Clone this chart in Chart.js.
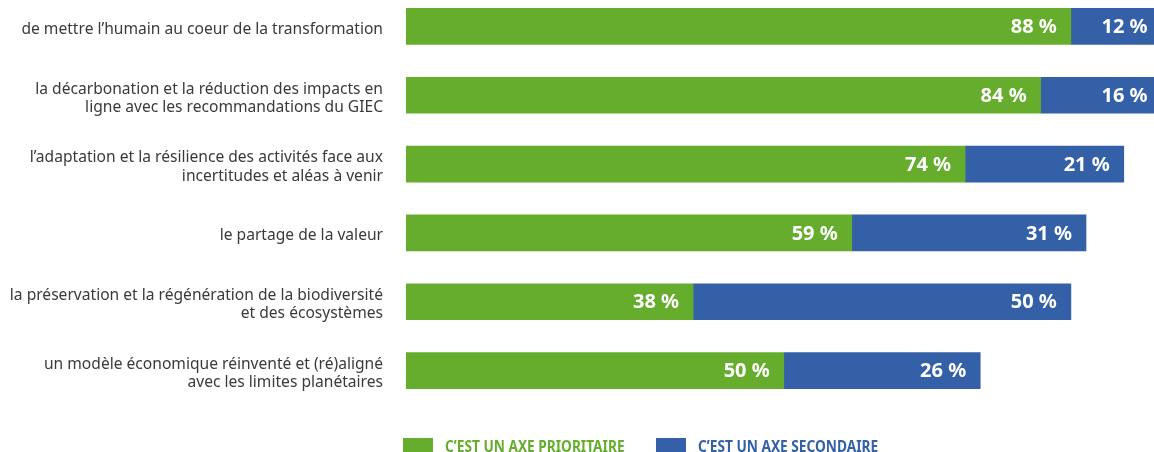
<!DOCTYPE html>
<html>
<head>
<meta charset="utf-8">
<script src="https://cdn.jsdelivr.net/npm/chart.js@4/dist/chart.umd.min.js"></script>
<style>
  html, body { margin: 0; padding: 0; background: #fff; overflow: hidden; }
  #wrap { position: relative; width: 1154px; height: 452px; overflow: hidden; }
  #inner { position: absolute; left: 0; top: -8px; width: 1154px; height: 460px; }
</style>
</head>
<body>
<div id="wrap"><div id="inner"><canvas id="chart"></canvas></div></div>
<script>
// Data
const categories = [
    ['de mettre l\u2019humain au coeur de la transformation'],
    ['la d\u00e9carbonation et la r\u00e9duction des impacts en', 'ligne avec les recommandations du GIEC'],
    ['l\u2019adaptation et la r\u00e9silience des activit\u00e9s face aux', 'incertitudes et al\u00e9as \u00e0 venir'],
    ['le partage de la valeur'],
    ['la pr\u00e9servation et la r\u00e9g\u00e9n\u00e9ration de la biodiversit\u00e9', 'et des \u00e9cosyst\u00e8mes'],
    ['un mod\u00e8le \u00e9conomique r\u00e9invent\u00e9 et (r\u00e9)align\u00e9', 'avec les limites plan\u00e9taires']
];
const prioritaire = [88, 84, 74, 59, 38, 50];
const secondaire = [12, 16, 21, 31, 50, 26];
const seriesLabels = ['C\u2019EST UN AXE PRIORITAIRE', 'C\u2019EST UN AXE SECONDAIRE'];

const GREEN = '#67ad2d';
const BLUE = '#3360a6';

// Value labels inside each segment, right aligned
const valueLabels = {
    id: 'valueLabels',
    afterDatasetsDraw(chart) {
        const ctx = chart.ctx;
        ctx.save();
        ctx.font = 'bold 20px "Noto Sans", sans-serif';
        ctx.fillStyle = '#fff';
        ctx.textAlign = 'right';
        ctx.textBaseline = 'middle';
        chart.data.datasets.forEach((ds, i) => {
            chart.getDatasetMeta(i).data.forEach((bar, j) => {
                const x = Math.min(bar.x, chart.width + 11) - 14;
                ctx.fillText(ds.data[j] + ' %', x, bar.y + 1);
            });
        });
        ctx.restore();
    }
};

// Legend under the bars (condensed bold caps)
const bottomLegend = {
    id: 'bottomLegend',
    afterDraw(chart) {
        const ctx = chart.ctx;
        const left = chart.chartArea.left;
        const y = 446;
        ctx.save();
        ctx.font = 'bold 16px "Noto Sans", sans-serif';
        ctx.textBaseline = 'top';
        ctx.textAlign = 'left';
        chart.data.datasets.forEach((ds, i) => {
            const x = left - 3 + i * 253;
            ctx.fillStyle = ds.backgroundColor;
            ctx.fillRect(x, y, 30, 16);
            ctx.save();
            ctx.translate(x + 42, y + 1);
            ctx.scale(0.855, 1);
            ctx.fillText(ds.label, 0, 0);
            ctx.restore();
        });
        ctx.restore();
    }
};

new Chart(document.getElementById('chart'), {
    type: 'bar',
    data: {
        labels: categories,
        datasets: [
            { label: seriesLabels[0], data: prioritaire, backgroundColor: GREEN, barThickness: 36 },
            { label: seriesLabels[1], data: secondaire, backgroundColor: BLUE, barThickness: 36 }
        ]
    },
    options: {
        indexAxis: 'y',
        responsive: true,
        maintainAspectRatio: false,
        animation: false,
        layout: { padding: { top: 0, bottom: 47, right: 0, left: 0 } },
        scales: {
            x: {
                stacked: true,
                display: false,
                min: 0,
                max: 99
            },
            y: {
                stacked: true,
                grid: { display: false, drawTicks: false },
                border: { display: false },
                ticks: {
                    color: '#3a3a3a',
                    padding: 23,
                    labelOffset: 3,
                    font: { family: '"Noto Sans", sans-serif', size: 15.6, lineHeight: 1.17 }
                },
                afterFit(scale) {
                    scale.width = 406;
                    scale.paddingTop = 0;
                    scale.paddingBottom = 0;
                }
            }
        },
        plugins: {
            legend: { display: false },
            tooltip: { enabled: false }
        }
    },
    plugins: [valueLabels, bottomLegend]
});
</script>
</body>
</html>
